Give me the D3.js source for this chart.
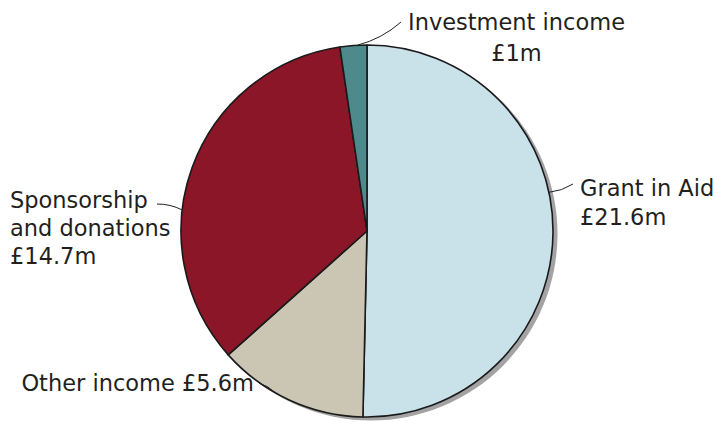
<!DOCTYPE html>
<html>
<head>
<meta charset="utf-8">
<script src="https://cdn.jsdelivr.net/npm/d3@7/dist/d3.min.js"></script>
<style>
  html, body { margin: 0; padding: 0; background: #fff; }
  svg { display: block; }
  text { font-family: "DejaVu Sans", sans-serif; font-size: 22.5px; fill: #231f20; }
</style>
</head>
<body>
<svg id="chart" width="713" height="424"></svg>
<script>
// Income sources (£m), drawn clockwise from 12 o'clock
const categories = ["Grant in Aid", "Other income", "Sponsorship and donations", "Investment income"];
const values = [21.6, 5.6, 14.7, 1];
const labelLines = [
  ["Grant in Aid", "£21.6m"],
  ["Other income £5.6m"],
  ["Sponsorship", "and donations", "£14.7m"],
  ["Investment income", "£1m"]
];
const colors = ["#c9e2e9", "#cbc5b3", "#8a1628", "#4e8a8c"];

const svg = d3.select("#chart");
const cx = 367, cy = 231, r = 186;

const pie = d3.pie().sort(null).value(d => d.value);
const arcs = pie(categories.map((c, i) => ({ name: c, value: values[i], lines: labelLines[i] })));
const arc = d3.arc().innerRadius(0).outerRadius(r);

const g = svg.append("g").attr("transform", `translate(${cx},${cy})`);

// drop shadow behind the pie
g.append("circle")
  .attr("cx", 4).attr("cy", 3).attr("r", r + 0.5)
  .attr("fill", "#a3a3a3");

g.selectAll("path.slice")
  .data(arcs)
  .join("path")
  .attr("class", "slice")
  .attr("d", arc)
  .attr("fill", (d, i) => colors[i])
  .attr("stroke", "#1a1a1a")
  .attr("stroke-width", 1.6)
  .attr("stroke-linejoin", "round");

// label placement: angle where the leader meets the rim, leader end, text position
const layout = [
  { angle: 78, end: [573, 184], text: [580, 196], anchor: "start", lead: 29, align: "start" },
  { angle: 209.5, end: [259, 383], text: [254, 391], anchor: "end", lead: 0, align: "end" },
  { angle: 276.5, end: [157, 204], text: [10, 208], anchor: "start", lead: 28, align: "start" },
  { angle: -3, end: [401, 22], text: [408, 30], anchor: "start", lead: 31, align: "middle" }
];

const rim = a => {
  const t = a * Math.PI / 180;
  return [cx + r * Math.sin(t), cy - r * Math.cos(t)];
};

arcs.forEach((d, i) => {
  const L = layout[i];
  const p0 = rim(L.angle);
  const p1 = L.end;
  const mx = (p0[0] + p1[0]) / 2, my = (p0[1] + p1[1]) / 2;
  const dx = p1[0] - p0[0], dy = p1[1] - p0[1];
  const ctrl = [mx - dy * 0.12, my + dx * 0.12];
  svg.append("path")
    .attr("d", `M${p0[0]},${p0[1]}Q${ctrl[0]},${ctrl[1]} ${p1[0]},${p1[1]}`)
    .attr("fill", "none")
    .attr("stroke", "#231f20")
    .attr("stroke-width", 1);

  const t = svg.append("text")
    .attr("x", L.text[0]).attr("y", L.text[1])
    .attr("text-anchor", L.anchor);
  const spans = d.data.lines.map((line, j) => {
    const ts = t.append("tspan").text(line).attr("x", L.text[0]);
    if (j > 0) ts.attr("dy", L.lead);
    return ts;
  });
  // centre the lower lines under the first one
  if (L.align === "middle") {
    const w = spans[0].node().getComputedTextLength();
    spans.slice(1).forEach(ts => ts.attr("x", L.text[0] + w / 2).attr("text-anchor", "middle"));
  }
});
</script>
</body>
</html>
